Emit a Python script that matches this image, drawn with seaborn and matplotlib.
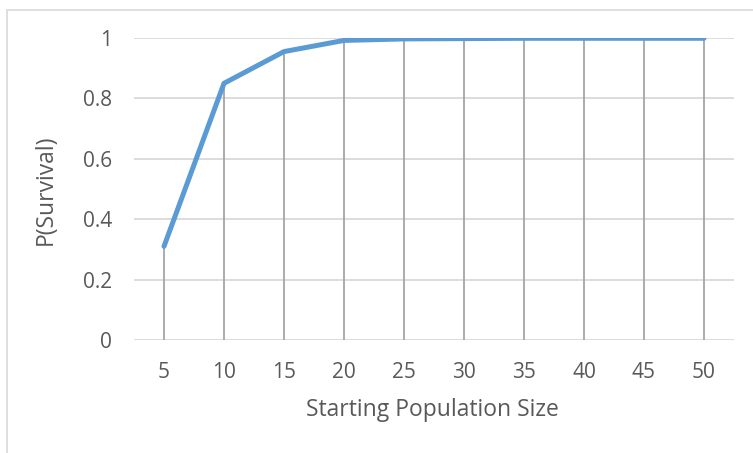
import matplotlib
matplotlib.use("Agg")
import matplotlib.pyplot as plt
from matplotlib.patches import Rectangle
import pandas as pd
import seaborn as sns

# Starting population sizes and estimated survival probabilities
sizes = ["5", "10", "15", "20", "25", "30", "35", "40", "45", "50"]
p_survival = [0.31, 0.85, 0.955, 0.992, 0.997, 0.998, 0.999, 0.999, 0.999, 0.999]
y_ticks = [0, 0.2, 0.4, 0.6, 0.8, 1.0]
y_tick_labels = ["0", "0.2", "0.4", "0.6", "0.8", "1"]

df = pd.DataFrame({"size": sizes, "p": p_survival})

sns.set_theme(style="white")
plt.rcParams["font.family"] = ["Open Sans", "DejaVu Sans"]

text_color = "#595959"
grid_color = "#D9D9D9"
drop_color = "#A5A5A5"
line_color = "#5B9BD5"

fig = plt.figure(figsize=(7.53, 4.53), dpi=100)
fig.patch.set_facecolor("white")

# Chart-area frame (left and top edges visible)
fig.patches.append(Rectangle((7 / 753, -0.1), 1.2, 1 - 10 / 453 + 0.1,
                             transform=fig.transFigure, fill=False,
                             edgecolor=grid_color, linewidth=1.2))

ax = fig.add_axes([134 / 753, 1 - 340 / 453, 600 / 753, 302 / 453])
ax.set_facecolor("white")

for s in ax.spines.values():
    s.set_visible(False)

# Horizontal gridlines
for yv in y_ticks:
    ax.axhline(yv, color=grid_color, linewidth=1.3, zorder=1)

# Drop lines from each point down to the category axis
xpos = list(range(len(sizes)))
ax.vlines(xpos, 0, df["p"], color=drop_color, linewidth=1.3, zorder=2)

sns.lineplot(data=df, x="size", y="p", ax=ax, color=line_color,
             linewidth=3.6, solid_capstyle="round", zorder=3,
             sort=False)

ax.set_xlim(-0.5, len(sizes) - 0.5)
ax.set_ylim(0, 1)
ax.set_yticks(y_ticks)
ax.set_yticklabels(y_tick_labels)
ax.set_xticks(xpos)
ax.set_xticklabels(sizes)
ax.tick_params(axis="both", length=0, labelsize=15, colors=text_color)
ax.tick_params(axis="y", pad=16)
ax.tick_params(axis="x", pad=16)

ax.set_xlabel("Starting Population Size", fontsize=16.5, color=text_color)
ax.set_ylabel("P(Survival)", fontsize=16.5, color=text_color)
ax.xaxis.label.set_va("center")
ax.yaxis.label.set_va("center")
ax.xaxis.set_label_coords(0.497, (340 - 410) / 302)
ax.yaxis.set_label_coords((46 - 134) / 600, 0.5 + (340 - 190 - 151) / 302)

fig.savefig("out.png", dpi=100, facecolor="white")
